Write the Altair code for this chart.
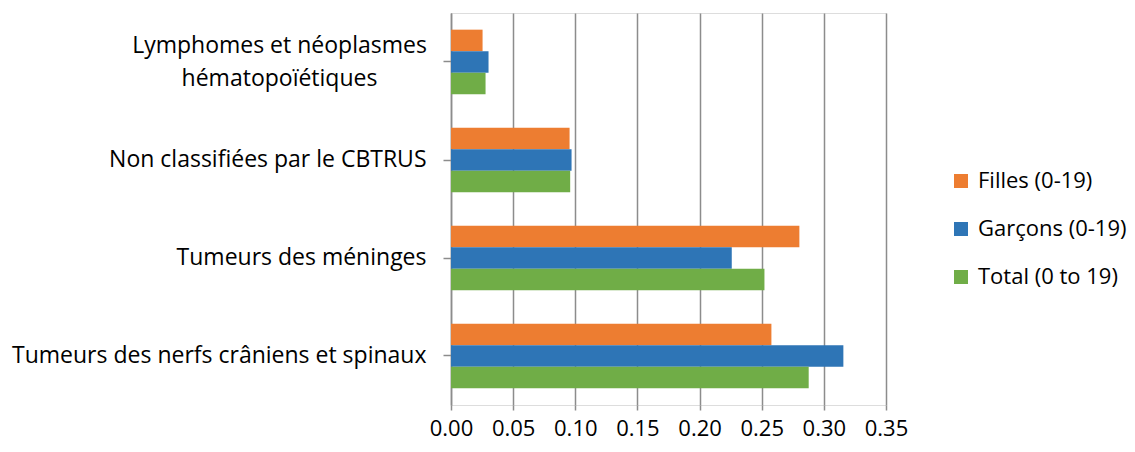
import altair as alt
import pandas as pd

categories = [
    "Lymphomes et néoplasmes hématopoïétiques",
    "Non classifiées par le CBTRUS",
    "Tumeurs des méninges",
    "Tumeurs des nerfs crâniens et spinaux",
]
series = ["Filles (0-19)", "Garçons (0-19)", "Total (0 to 19)"]
filles = [0.0254, 0.0954, 0.2803, 0.2578]
garcons = [0.0302, 0.0970, 0.2259, 0.3157]
total = [0.0278, 0.0959, 0.2522, 0.2878]
colors = ["#ED7D31", "#2E75B6", "#70AD47"]
x_ticks = [0.0, 0.05, 0.10, 0.15, 0.20, 0.25, 0.30, 0.35]

rows = []
for s, vals in zip(series, [filles, garcons, total]):
    for c, v in zip(categories, vals):
        rows.append({"cat": c, "series": s, "value": v})
df = pd.DataFrame(rows)

FONT = "Open Sans"
two_line = "Lymphomes et néoplasmes hématopoïétiques"
test = "datum.value == '" + two_line + "'"
label_expr = (
    "datum.label == '" + two_line + "' ? "
    "['Lymphomes et néoplasmes', 'hématopoïétiques'] : datum.label"
)

chart = alt.Chart(df).mark_bar().encode(
    y=alt.Y(
        "cat:N",
        sort=categories,
        scale=alt.Scale(paddingInner=0.34, paddingOuter=0.17),
        axis=alt.Axis(
            title=None,
            labelExpr=label_expr,
            labelFont=FONT,
            labelFontSize=23,
            labelColor="#000000",
            labelLineHeight=33,
            labelAlign={"condition": {"test": test, "value": "center"}, "value": "right"},
            labelPadding={"condition": {"test": test, "value": 164}, "value": 17},
            labelOffset={"condition": {"test": test, "value": -16}, "value": 0},
            tickSize=8,
            tickColor="#8c8c8c",
            tickWidth=1.5,
            domainColor="#8c8c8c",
            domainWidth=1.5,
            grid=False,
            labelLimit=500,
        ),
    ),
    yOffset=alt.YOffset("series:N", sort=series, scale=alt.Scale(paddingInner=0, paddingOuter=0)),
    x=alt.X(
        "value:Q",
        scale=alt.Scale(domain=[0, 0.35], nice=False),
        axis=alt.Axis(
            title=None,
            values=x_ticks,
            format=".2f",
            labelFont=FONT,
            labelFontSize=22,
            labelColor="#000000",
            labelPadding=8,
            labelFlush=False,
            labelOverlap=False,
            tickSize=5,
            tickColor="#8c8c8c",
            tickWidth=1.5,
            domain=False,
            grid=True,
            gridColor="#8c8c8c",
            gridWidth=1.5,
        ),
    ),
    color=alt.Color(
        "series:N",
        sort=series,
        scale=alt.Scale(domain=series, range=colors),
        legend=alt.Legend(
            title=None,
            orient="none",
            legendX=499,
            legendY=157,
            symbolType="square",
            symbolSize=196,
            symbolStrokeWidth=0,
            labelFont=FONT,
            labelFontSize=22,
            labelColor="#000000",
            rowPadding=26,
            labelOffset=6,
            labelLimit=300,
        ),
    ),
).properties(
    width=435,
    height=392,
    autosize=alt.AutoSizeParams(type="none"),
    padding={"left": 443, "top": 5, "right": 241, "bottom": 39},
).configure_view(stroke=None).configure(background="#ffffff")

chart.save("out.html", embed_options={"renderer": "svg", "actions": False})
